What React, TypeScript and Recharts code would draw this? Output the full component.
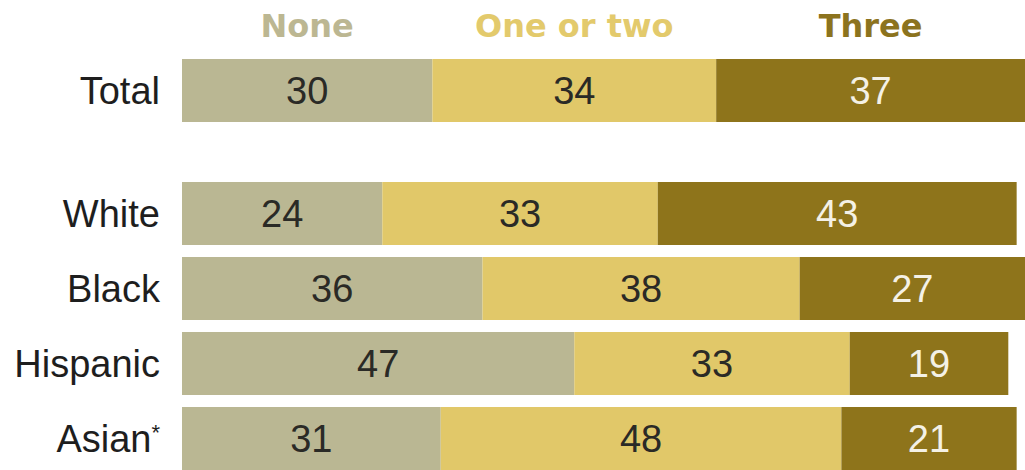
import React from 'react';
import { BarChart, Bar, XAxis, YAxis, LabelList } from 'recharts';

const categories = ['Total', 'White', 'Black', 'Hispanic', 'Asian*'];
const none = [30, 24, 36, 47, 31];
const oneOrTwo = [34, 33, 38, 33, 48];
const three = [37, 43, 27, 19, 21];
const seriesNames = ['None', 'One or two', 'Three'];

const rows = categories.map((name, i) => ({
  name,
  none: none[i],
  oneOrTwo: oneOrTwo[i],
  three: three[i],
}));

const maxSum = Math.max(...rows.map((r) => r.none + r.oneOrTwo + r.three));

const COLORS = ['#BAB793', '#E1C869', '#8E741B'];
const HEAD_COLORS = ['#BCB792', '#E3CA6C', '#8C731E'];
const LABEL_FILL = ['#2a2a26', '#2a2a26', '#F4F1E6'];
const KEYS = ['none', 'oneOrTwo', 'three'];

const FONT = '"Liberation Sans", Arial, sans-serif';

// category label; a trailing asterisk is drawn small and raised
const CategoryTick = (props: any) => {
  const { x, y, payload } = props;
  const text: string = payload.value;
  const star = text.endsWith('*');
  const base = star ? text.slice(0, -1) : text;
  return (
    <text
      x={x}
      y={y}
      dy="0.355em"
      textAnchor="end"
      fontFamily={FONT}
      fontSize={38}
      fill="#1e1e1e"
    >
      {base}
      {star && (
        <tspan fontSize={22} dy={-12}>
          *
        </tspan>
      )}
    </text>
  );
};

const renderBars = (withHeader: boolean) =>
  KEYS.map((key, i) => (
    <Bar
      key={key}
      dataKey={key}
      stackId="a"
      fill={COLORS[i]}
      barSize={63}
      isAnimationActive={false}
    >
      <LabelList
        dataKey={key}
        position="center"
        fill={LABEL_FILL[i]}
        style={{ fontFamily: FONT, fontSize: 38 }}
      />
      {withHeader && (
        <LabelList
          dataKey={key}
          position="top"
          offset={22}
          formatter={() => seriesNames[i]}
          fill={HEAD_COLORS[i]}
          style={{ fontFamily: '"DejaVu Sans", sans-serif', fontSize: 32, fontWeight: 'bold' }}
        />
      )}
    </Bar>
  ));

const App: React.FC = () => {
  return (
    <div
      style={{
        position: 'absolute',
        left: 0,
        top: 0,
        width: 1025,
        height: 470,
        overflow: 'hidden',
        background: '#ffffff',
      }}
    >
      <BarChart
        width={1025}
        height={129}
        data={rows.slice(0, 1)}
        layout="vertical"
        margin={{ top: 52, right: 0, bottom: 0, left: 0 }}
        barCategoryGap={0}
      >
        <XAxis type="number" hide domain={[0, maxSum]} />
        <YAxis
          type="category"
          dataKey="name"
          width={182}
          axisLine={false}
          tickLine={false}
          tickSize={0}
          tickMargin={22}
          tick={<CategoryTick />}
        />
        {renderBars(true)}
      </BarChart>
      <BarChart
        width={1025}
        height={347}
        data={rows.slice(1)}
        layout="vertical"
        margin={{ top: 47, right: 0, bottom: 0, left: 0 }}
        barCategoryGap={0}
      >
        <XAxis type="number" hide domain={[0, maxSum]} />
        <YAxis
          type="category"
          dataKey="name"
          width={182}
          axisLine={false}
          tickLine={false}
          tickSize={0}
          tickMargin={22}
          tick={<CategoryTick />}
        />
        {renderBars(false)}
      </BarChart>
    </div>
  );
};

export default App;
